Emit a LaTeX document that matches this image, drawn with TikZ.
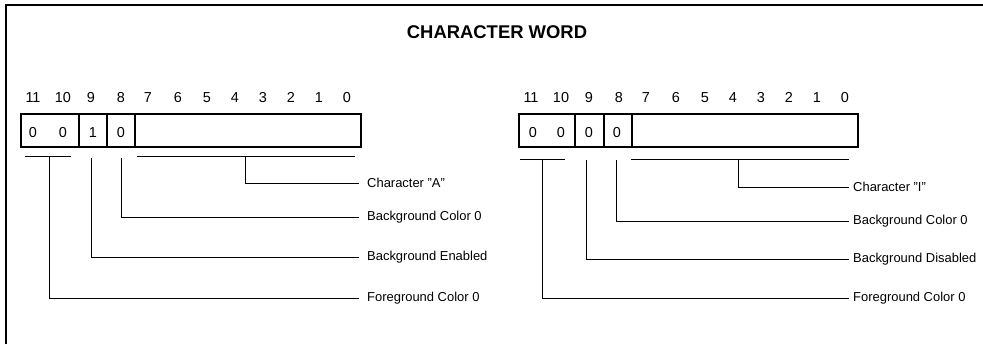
\documentclass[tikz,border=0pt]{standalone}
\usepackage{fontspec}
\setmainfont{Liberation Sans}
\begin{document}
\begin{tikzpicture}[x=1bp,y=-1bp,
  frame/.style={line width=2pt},
  regbox/.style={line width=1.2pt},
  lead/.style={line width=0.9pt},
  bitnum/.style={font=\fontsize{14.5}{16}\selectfont, inner sep=0pt, anchor=base},
  lbl/.style={font=\fontsize{13}{15}\selectfont, anchor=west, inner sep=0pt},
  ttl/.style={font=\fontsize{18.5}{22}\selectfont\bfseries, inner sep=0pt}]
\useasboundingbox (0,0) rectangle (983,344);
% frame
\draw[frame] (6,344) -- (6,5) -- (983,5);
\node[ttl] (title) at (497,32) {CHARACTER WORD};

% ---------------- left word ----------------
\draw[regbox] (21,114) rectangle (361,147);
\foreach \x in {79,107,135} \draw[regbox] (\x,114) -- (\x,147);
\foreach \x/\b [count=\i] in {33/11,63/10,91/9,121/8,148/7,178/6,207/5,235/4,263/3,291/2,319/1,347/0}
  \node[bitnum] (lb\i) at (\x,102) {\b};
\foreach \x/\v [count=\i] in {33/0,63/0,93/1,121/0}
  \node[bitnum] (lv\i) at (\x,137) {\v};
\draw[lead] (25,156) -- (71,156);
\draw[lead] (137,156) -- (355,156);
\node[lbl] (lA) at (367,183) {Character \symbol{34}A\symbol{34}};
\node[lbl] (lB) at (367,217) {Background Color 0};
\node[lbl] (lC) at (367,257) {Background Enabled};
\node[lbl] (lD) at (367,298) {Foreground Color 0};
\coordinate (la) at (245,156);
\coordinate (lb) at (121,158);
\coordinate (lc) at (91,158);
\coordinate (ld) at (49,156);
\draw[lead] (la) |- ([xshift=-8bp]lA.west);
\draw[lead] (lb) |- ([xshift=-8bp]lB.west);
\draw[lead] (lc) |- ([xshift=-8bp]lC.west);
\draw[lead] (ld) |- ([xshift=-8bp]lD.west);

% ---------------- right word ----------------
\draw[regbox] (519,114) rectangle (858,147);
\foreach \x in {575,604,632} \draw[regbox] (\x,114) -- (\x,147);
\foreach \x/\b [count=\i] in {531/11,561/10,589/9,619/8,646/7,676/6,705/5,733/4,761/3,789/2,817/1,845/0}
  \node[bitnum] (rb\i) at (\x,102) {\b};
\foreach \x/\v [count=\i] in {533/0,561/0,589/0,617/0}
  \node[bitnum] (rv\i) at (\x,137) {\v};
\draw[lead] (520,159) -- (565,159);
\draw[lead] (631,159) -- (849,159);
\node[lbl] (rA) at (853,187) {Character \symbol{34}I\symbol{34}};
\node[lbl] (rB) at (853,221) {Background Color 0};
\node[lbl] (rC) at (853,259) {Background Disabled};
\node[lbl] (rD) at (853,298) {Foreground Color 0};
\coordinate (ra) at (738,159);
\coordinate (rb) at (616,160);
\coordinate (rc) at (586,160);
\coordinate (rd) at (542,159);
\draw[lead] (ra) |- ([xshift=-4bp]rA.west);
\draw[lead] (rb) |- ([xshift=-4bp]rB.west);
\draw[lead] (rc) |- ([xshift=-4bp]rC.west);
\draw[lead] (rd) |- ([xshift=-4bp]rD.west);
\end{tikzpicture}
\end{document}
